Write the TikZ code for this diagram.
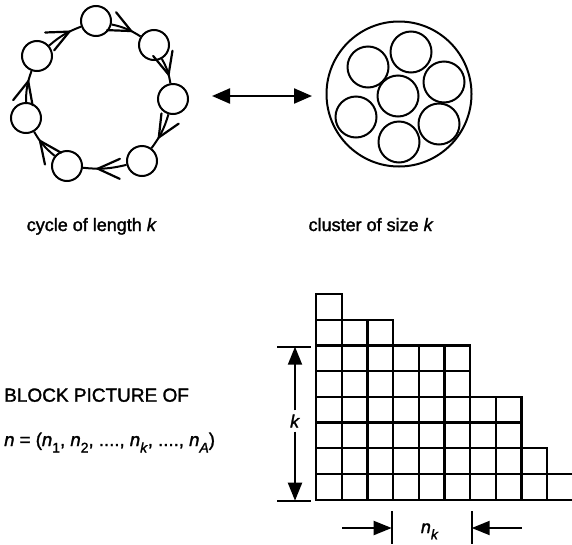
\documentclass[tikz,border=0pt]{standalone}
\usepackage{fontspec}
\setmainfont{Liberation Sans}[FakeBold=1.5]
\newfontfamily\lblfont{Liberation Sans}[FakeBold=1.5,ItalicFeatures={FakeBold=1.5}]
\usetikzlibrary{arrows.meta,decorations.markings}
\newcommand\lowsub[1]{\raisebox{-0.35em}{\fontsize{14}{15}\selectfont #1}}
\begin{document}
\begin{tikzpicture}[x=1pt,y=-1pt,
  bead/.style={circle,draw,line width=2pt,minimum size=30pt,inner sep=0pt},
  grain/.style={circle,draw,line width=2pt,minimum size=41pt,inner sep=0pt},
  link/.style={line width=2pt,postaction={decorate},
    decoration={markings,mark=at position 0.66 with {\draw[line width=2.2pt,line cap=round] (-22pt,10pt) -- (0pt,0pt) -- (-22pt,-10pt);}}},
  lbl/.style={font=\lblfont\fontsize{18}{20}\selectfont,inner sep=0pt,anchor=base},
  cellbox/.style={draw,line width=2.2pt,minimum size=25.67pt,inner sep=0pt,anchor=south west},
  tick/.style={line width=2.2pt},
  tri/.style={line width=2pt,-{Triangle[length=18pt,width=14pt]}},
]
\useasboundingbox (0,0) rectangle (572,544);

% cycle
\node[bead] (c1) at (96,21) {};
\node[bead] (c2) at (154,45) {};
\node[bead] (c3) at (173,99) {};
\node[bead] (c4) at (142,161) {};
\node[bead] (c5) at (67,166) {};
\node[bead] (c6) at (26,118) {};
\node[bead] (c7) at (37,56) {};
\draw[link] (c1) to[bend left=10] (c2);
\draw[link] (c2) to[bend left=10] (c3);
\draw[link] (c3) to[bend left=10] (c4);
\draw[link] (c4) to[bend left=10] (c5);
\draw[link] (c5) to[bend left=10] (c6);
\draw[link] (c6) to[bend left=10] (c7);
\draw[link] (c7) to[bend left=10] (c1);

% double arrow
\coordinate (da) at (212,96);
\coordinate (db) at (312,96);
\draw[line width=2.2pt,{Triangle[length=18pt,width=15pt]}-{Triangle[length=18pt,width=15pt]}] (da) -- (db);

% cluster
\node[circle,draw,line width=2pt,minimum size=145pt,inner sep=0pt] (clu) at (399,94) {};
\node[grain] (g0) at (398,96) {};
\node[grain] (g1) at (411,52) {};
\node[grain] (g2) at (444,82) {};
\node[grain] (g3) at (439,124) {};
\node[grain] (g4) at (399,142) {};
\node[grain] (g5) at (356,117) {};
\node[grain] (g6) at (368,67) {};

% labels
\node[lbl] (cyclab) at (91.7,231) {cycle of length \textit{k}};
\node[lbl] (clulab) at (371,231) {cluster of size \textit{k}};
\node[lbl,anchor=base west,font=\lblfont\fontsize{19}{21}\selectfont] (bp) at (4,401.7) {BLOCK PICTURE OF};
\node[lbl,anchor=base west,font=\lblfont\fontsize{18.6}{21}\selectfont] (nvec) at (4,446) {\textit{n} = (\textit{n}\lowsub{1}, \textit{n}\lowsub{2}, ...., \textit{n}\lowsub{\textit{k}}, ...., \textit{n}\lowsub{\textit{A}})};

% block picture
\foreach \h [count=\i from 0] in {8,7,7,6,6,6,4,4,2,1} {
  \foreach \j in {1,...,\h} {
    \node[cellbox] (b\i-\j) at ({315+25.67*\i},{500.7-25.67*(\j-1)}) {};
  }
}

% k dimension
\coordinate (kt1) at (277,346.7);
\coordinate (kt2) at (311,346.7);
\coordinate (kb1) at (277,500.7);
\coordinate (kb2) at (311,500.7);
\draw[tick] (kt1) -- (kt2);
\draw[tick] (kb1) -- (kb2);
\coordinate (ktop) at (295,346.7);
\coordinate (kbot) at (295,500.7);
\node[lbl,anchor=center,inner sep=4pt] (klab) at (295,421) {\textit{k}};
\draw[tri] (klab) -- (ktop);
\draw[tri] (klab) -- (kbot);

% n_k dimension
\coordinate (nl1) at (391.7,511);
\coordinate (nl2) at (391.7,544);
\coordinate (nr1) at (471.7,511);
\coordinate (nr2) at (471.7,544);
\draw[tick] (nl1) -- (nl2);
\draw[tick] (nr1) -- (nr2);
\coordinate (al) at (342,528);
\coordinate (alt) at (391.7,528);
\coordinate (ar) at (521.7,528);
\coordinate (art) at (471.7,528);
\draw[tri] (al) -- (alt);
\draw[tri] (ar) -- (art);
\node[lbl,anchor=base west] (nklab) at (420.7,533) {\textit{n}\lowsub{\textit{k}}};
\end{tikzpicture}
\end{document}
